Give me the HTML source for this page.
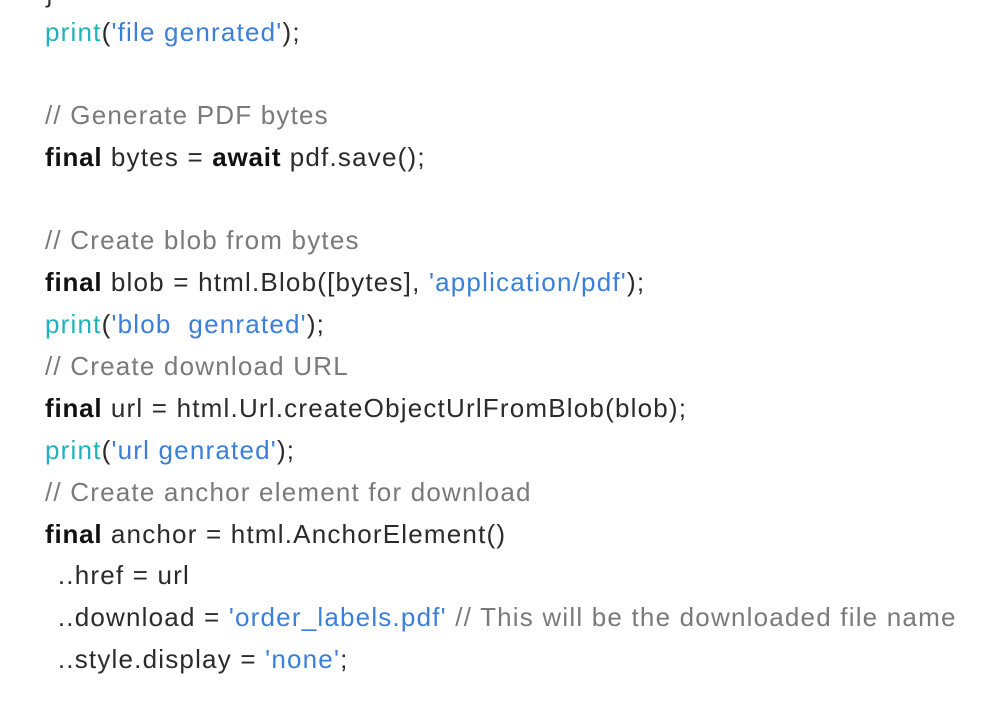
<!DOCTYPE html>
<html><head><meta charset="utf-8"><style>
body{margin:0;background:#fff;width:1000px;height:702px;overflow:hidden;position:relative;font-family:"Liberation Sans","DejaVu Sans",sans-serif;font-size:26px;color:#2b2b2b}
.l{position:absolute;left:45px;white-space:pre;line-height:30px;letter-spacing:1.2px}
.p{color:#1fb3bd}.s{color:#3b7fdc}.c{color:#7a7a7a}b{font-weight:bold;color:#111;letter-spacing:0.8px}
.i{margin-left:-4px}
</style></head><body>
<div class="l" style="top:-22px">}</div>
<div class="l" style="top:17px"><span class="p">print</span>(<span class="s">'file genrated'</span>);</div>
<div class="l c" style="top:100px">// Generate PDF bytes</div>
<div class="l" style="top:142px"><b>final</b> bytes = <b>await</b> pdf.save();</div>
<div class="l c" style="top:225px">// Create blob from bytes</div>
<div class="l" style="top:267px"><b>final</b> blob = html.Blob([bytes], <span class="s">'application/pdf'</span>);</div>
<div class="l" style="top:309px"><span class="p">print</span>(<span class="s">'blob  genrated'</span>);</div>
<div class="l c" style="top:351px">// Create download URL</div>
<div class="l" style="top:393px"><b>final</b> url = html.Url.createObjectUrlFromBlob(blob);</div>
<div class="l" style="top:435px"><span class="p">print</span>(<span class="s">'url genrated'</span>);</div>
<div class="l c" style="top:477px">// Create anchor element for download</div>
<div class="l" style="top:519px"><b>final</b> anchor = html.AnchorElement()</div>
<div class="l" style="top:560px;left:41px">  ..href = url</div>
<div class="l" style="top:602px;left:41px">  ..download = <span class="s">'order_labels.pdf'</span> <span class="c">// This will be the downloaded file name</span></div>
<div class="l" style="top:644px;left:41px">  ..style.display = <span class="s">'none'</span>;</div>
</body></html>
